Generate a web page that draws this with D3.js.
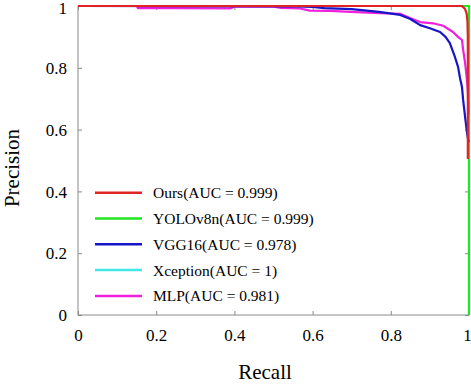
<!DOCTYPE html>
<html><head><meta charset="utf-8">
<script src="https://cdn.jsdelivr.net/npm/d3@7"></script>
<style>html,body{margin:0;padding:0;background:#fff;}svg{display:block;}</style>
</head><body>
<svg id="c" width="471" height="384"></svg>
<script>
const xTicks = [0, 0.2, 0.4, 0.6, 0.8, 1];
const yTicks = [0, 0.2, 0.4, 0.6, 0.8, 1];
const tickLabels = ["0", "0.2", "0.4", "0.6", "0.8", "1"];
const seriesNames = ["Ours(AUC = 0.999)", "YOLOv8n(AUC = 0.999)", "VGG16(AUC = 0.978)", "Xception(AUC = 1)", "MLP(AUC = 0.981)"];
const seriesColors = ["#e02424", "#22e622", "#1616c8", "#44e6e6", "#f020dc"];

const recallOurs = [0, 0.982, 0.99, 0.994, 0.996, 0.997, 0.997];
const precOurs   = [1, 1, 0.99, 0.975, 0.95, 0.9, 0.505];

const recallYolo = [0, 1, 1];
const precYolo   = [1, 1, 0];

const recallVgg = [0, 0.56, 0.6, 0.63, 0.7, 0.77, 0.824, 0.85, 0.875, 0.9, 0.926, 0.94, 0.951, 0.964, 0.972, 0.977, 0.982, 0.985, 0.99, 0.994, 0.997, 0.999];
const precVgg   = [1, 0.999, 0.997, 0.993, 0.99, 0.981, 0.971, 0.958, 0.938, 0.928, 0.916, 0.9, 0.88, 0.835, 0.803, 0.767, 0.738, 0.696, 0.641, 0.599, 0.573, 0.56];

const recallXcep = [0, 1, 1];
const precXcep   = [1, 1, 0];

const recallMlp = [0.151, 0.153, 0.25, 0.389, 0.40, 0.50, 0.52, 0.568, 0.593, 0.645, 0.696, 0.772, 0.824, 0.849, 0.875, 0.908, 0.934, 0.959, 0.972, 0.982, 0.985, 0.990, 0.994, 0.997, 0.999];
const precMlp   = [1.0, 0.993, 0.993, 0.992, 0.998, 0.998, 0.994, 0.992, 0.985, 0.984, 0.981, 0.977, 0.975, 0.961, 0.948, 0.944, 0.936, 0.916, 0.9, 0.89, 0.858, 0.816, 0.77, 0.728, 0.65];

const svg = d3.select("#c");
const L = 78, R = 469, T = 6, B = 315;
const x = d3.scaleLinear().domain([0, 1]).range([L, R]);
const y = d3.scaleLinear().domain([0, 1]).range([B, T]);
const serif = "'Liberation Serif','Times New Roman',serif";
const axisCol = "#8a8a8a";

svg.append("rect").attr("x", L).attr("y", T).attr("width", R - L).attr("height", B - T)
  .attr("fill", "none").attr("stroke", axisCol).attr("stroke-width", 1);
const gBottom = svg.append("g").attr("transform", `translate(0,${B})`)
  .call(d3.axisBottom(x).tickValues(xTicks).tickSizeInner(-4).tickSizeOuter(0).tickFormat((d, i) => tickLabels[i]));
const gTop = svg.append("g").attr("transform", `translate(0,${T})`)
  .call(d3.axisTop(x).tickValues(xTicks).tickSizeInner(-4).tickSizeOuter(0).tickFormat(""));
const gLeft = svg.append("g").attr("transform", `translate(${L},0)`)
  .call(d3.axisLeft(y).tickValues(yTicks).tickSizeInner(-4).tickSizeOuter(0).tickFormat((d, i) => tickLabels[i]));
const gRight = svg.append("g").attr("transform", `translate(${R},0)`)
  .call(d3.axisRight(y).tickValues(yTicks).tickSizeInner(-4).tickSizeOuter(0).tickFormat(""));
[gBottom, gTop, gLeft, gRight].forEach(g => {
  g.select(".domain").remove();
  g.selectAll(".tick line").attr("stroke", axisCol);
  g.selectAll("text").attr("fill", "#000").style("font-family", serif).style("font-size", "17px");
});
gBottom.selectAll("text").attr("y", 14).attr("dy", "0.71em").attr("dx", (d) => d === 1 ? -2 : 0);
gLeft.selectAll("text").attr("x", -11).attr("dy", (d) => d === 1 ? "0.45em" : "0.34em");

const line = d3.line().x(d => x(d[0])).y(d => y(d[1]));
const series = [
  {r: recallXcep, p: precXcep, c: seriesColors[3]},
  {r: recallYolo, p: precYolo, c: seriesColors[1]},
  {r: recallMlp, p: precMlp, c: seriesColors[4]},
  {r: recallVgg, p: precVgg, c: seriesColors[2]},
  {r: recallOurs, p: precOurs, c: seriesColors[0]}
];
series.forEach(s => {
  svg.append("path").datum(d3.zip(s.r, s.p)).attr("d", line)
    .attr("fill", "none").attr("stroke", s.c).attr("stroke-width", 2.2)
    .attr("stroke-linejoin", "round");
});

const leg = svg.append("g");
seriesNames.forEach((n, i) => {
  const yy = 192.7 + i * 25.8;
  leg.append("line").attr("x1", 95).attr("x2", 142).attr("y1", yy).attr("y2", yy)
    .attr("stroke", seriesColors[i]).attr("stroke-width", 2.5);
  leg.append("text").attr("x", 153).attr("y", yy).attr("dy", "0.35em")
    .style("font-family", serif).style("font-size", "15.5px").text(n);
});

svg.append("text").attr("x", 265).attr("y", 379).attr("text-anchor", "middle")
  .style("font-family", serif).style("font-size", "21px").text("Recall");
svg.append("text").attr("transform", "translate(19,168) rotate(-90)").attr("text-anchor", "middle")
  .style("font-family", serif).style("font-size", "21px").text("Precision");
</script>
</body></html>
